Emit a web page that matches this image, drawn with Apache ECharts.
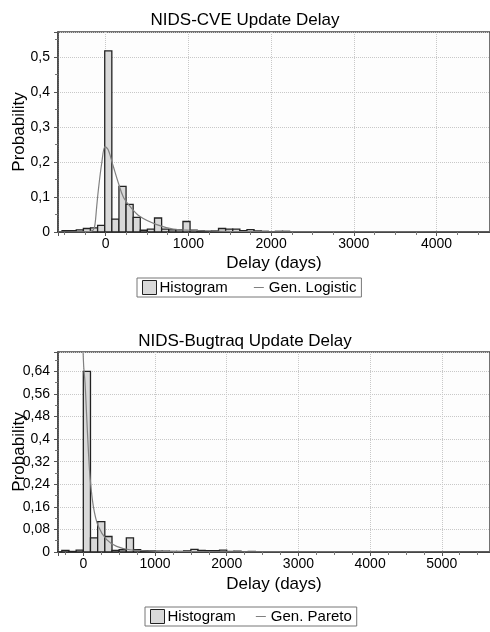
<!DOCTYPE html>
<html>
<head>
<meta charset="utf-8">
<script src="https://cdn.jsdelivr.net/npm/echarts@6/dist/echarts.min.js"></script>
<style>
html,body{margin:0;padding:0;background:#fff;}
#chart{width:490px;height:632px;}
</style>
</head>
<body>
<div id="chart"></div>
<script>
// ---------- Data: NIDS-CVE ----------
const cveBinWidth = 86;
const cveBinStart = [-528,-442,-356,-270,-184,-98,-12,74,160,246,332,418,504,590,676,762,848,934,1020,1106,1192,1278,1364,1450,1536,1622,1708,1794,1880,1966,2052,2138];
const cveProb     = [0.004,0.004,0.006,0.010,0.012,0.019,0.517,0.037,0.130,0.079,0.042,0.005,0.008,0.040,0.008,0.006,0.006,0.030,0.005,0.004,0.002,0.003,0.010,0.008,0.008,0.004,0.007,0.003,0.002,0.001,0.002,0.002];
const cveCurveX = [-577,-200,-150,-130,-110,-89,-48,-8,31,92,153,213,294,415,617,818,1020,1500,2500,4647];
const cveCurveY = [0,0.001,0.006,0.021,0.070,0.120,0.197,0.244,0.234,0.187,0.140,0.100,0.073,0.044,0.021,0.0085,0.005,0.0015,0.0003,0];

// ---------- Data: NIDS-Bugtraq ----------
const bugBinWidth = 100;
const bugBinStart = [-300,-200,-100,0,100,200,300,400,500,600,700,800,900,1000,1100,1200,1300,1400,1500,1600,1700,1800,1900,2000,2100,2200,2300];
const bugProb     = [0.006,0.002,0.007,0.640,0.050,0.108,0.055,0.006,0.008,0.050,0.008,0.005,0.004,0.003,0.003,0.002,0.002,0.004,0.009,0.006,0.005,0.005,0.007,0.002,0.003,0.001,0.002];
const bugCurveX = [-8,5,24,47,70,93,140,209,326,465,651,1000,1500,2500,5672];
const bugCurveY = [0.75,0.66,0.600,0.480,0.363,0.268,0.162,0.091,0.044,0.020,0.008,0.003,0.001,0.0003,0];

// ---------- Axis settings ----------
const cveXRange = [-577, 4647];
const cveYRange = [0, 0.571];
const cveYStep = 0.1;
const bugXRange = [-353, 5672];
const bugYRange = [0, 0.709];
const bugYStep = 0.08;

const FONT = '"Liberation Sans", Arial, sans-serif';
const zip = (a, b) => a.map((v, i) => [v, b[i]]);
const LINE_ICON = 'path://M0,0L0.01,0L0.01,0.01Z M14,14L14.01,14L14.01,14.01Z M2,6.4L12,6.4L12,7.6L2,7.6Z';

function histRender(binW) {
  return function (params, api) {
    const x0 = api.value(0), h = api.value(1);
    const p0 = api.coord([x0, h]);
    const p1 = api.coord([x0 + binW, 0]);
    return {
      type: 'rect',
      shape: { x: p0[0], y: p0[1], width: p1[0] - p0[0], height: p1[1] - p0[1] },
      style: { fill: '#d9d9d9', stroke: '#222', lineWidth: 1.3 }
    };
  };
}
function fmtY(v) {
  if (v === 0) return '0';
  return String(+v.toFixed(2)).replace('.', ',');
}
function xAxisOpt(gi, range, gap) {
  return {
    type: 'value', gridIndex: gi, min: range[0], max: range[1], splitNumber: 5,
    name: 'Delay (days)', nameLocation: 'middle', nameGap: gap, nameMoveOverlap: false,
    nameTextStyle: { fontFamily: FONT, fontSize: 17, color: '#000' },
    axisLine: { show: true, onZero: false, lineStyle: { color: '#333', width: 2 } },
    axisTick: { show: true, length: 4, lineStyle: { color: '#555' } },
    minorTick: { show: true, splitNumber: 4, length: 3, lineStyle: { color: '#777' } },
    axisLabel: { fontFamily: FONT, fontSize: 14, color: '#000', margin: 5, showMinLabel: false, showMaxLabel: false,
      formatter: v => String(v) },
    splitLine: { show: true, lineStyle: { color: '#c8c8c8', type: 'dotted', width: 1 } }
  };
}
function yAxisOpt(gi, range, step) {
  return {
    type: 'value', gridIndex: gi, min: range[0], max: range[1], interval: step,
    name: 'Probability', nameLocation: 'middle', nameGap: 30, nameRotate: 90, nameMoveOverlap: false,
    nameTextStyle: { fontFamily: FONT, fontSize: 17, color: '#000' },
    axisLine: { show: true, onZero: false, lineStyle: { color: '#444', width: 1.5 } },
    axisTick: { show: true, length: 4, lineStyle: { color: '#555' } },
    minorTick: { show: true, splitNumber: 2, length: 3, lineStyle: { color: '#777' } },
    axisLabel: { fontFamily: FONT, fontSize: 14, color: '#000', margin: 8, formatter: fmtY, showMaxLabel: false },
    splitLine: { show: true, lineStyle: { color: '#c8c8c8', type: 'dotted', width: 1 } }
  };
}
function legendOpt(top, left, names, gap) {
  return {
    top: top, left: left, orient: 'horizontal',
    borderColor: '#777', borderWidth: 1, padding: [2, 5], itemGap: gap,
    itemWidth: 14, itemHeight: 14,
    textStyle: { fontFamily: FONT, fontSize: 15, color: '#000', padding: [0, 0, 0, -2] },
    data: [
      { name: names[0], icon: 'rect', itemStyle: { color: '#d9d9d9', borderColor: '#222', borderWidth: 1 } },
      { name: names[1], icon: LINE_ICON, itemStyle: { color: '#808080', borderWidth: 0 } }
    ],
    selectedMode: false
  };
}
const gridBase = { left: 58, width: 432, height: 200, show: true, borderColor: '#444', borderWidth: 1.5,
  backgroundColor: '#fdfdfd', containLabel: false, outerBoundsMode: 'none' };

const chart = echarts.init(document.getElementById('chart'), null, { renderer: 'canvas' });
chart.setOption({
  backgroundColor: '#fff',
  animation: false,
  title: [
    { text: 'NIDS-CVE Update Delay', left: 'center', top: 7, textStyle: { fontFamily: FONT, fontSize: 17, fontWeight: 'normal', color: '#000' } },
    { text: 'NIDS-Bugtraq Update Delay', left: 'center', top: 328, textStyle: { fontFamily: FONT, fontSize: 17, fontWeight: 'normal', color: '#000' } }
  ],
  grid: [
    Object.assign({ top: 32 }, gridBase),
    Object.assign({ top: 352 }, gridBase)
  ],
  xAxis: [xAxisOpt(0, cveXRange, 23), xAxisOpt(1, bugXRange, 24)],
  yAxis: [yAxisOpt(0, cveYRange, cveYStep), yAxisOpt(1, bugYRange, bugYStep)],
  legend: [
    legendOpt(278, 137, ['Histogram', 'Gen. Logistic'], 24),
    legendOpt(607, 145, ['Histogram', 'Gen. Pareto'], 18)
  ],
  series: [
    { name: 'Histogram', type: 'custom', xAxisIndex: 0, yAxisIndex: 0, clip: true,
      itemStyle: { color: '#d9d9d9', borderColor: '#222' },
      renderItem: histRender(cveBinWidth), data: zip(cveBinStart, cveProb), encode: { x: 0, y: 1 } },
    { name: 'Gen. Logistic', type: 'line', xAxisIndex: 0, yAxisIndex: 0, smooth: 0.35, symbol: 'none', clip: true,
      lineStyle: { color: '#808080', width: 1.2 }, itemStyle: { color: '#808080' },
      data: zip(cveCurveX, cveCurveY) },
    { name: 'Histogram', type: 'custom', xAxisIndex: 1, yAxisIndex: 1, clip: true,
      itemStyle: { color: '#d9d9d9', borderColor: '#222' },
      renderItem: histRender(bugBinWidth), data: zip(bugBinStart, bugProb), encode: { x: 0, y: 1 } },
    { name: 'Gen. Pareto', type: 'line', xAxisIndex: 1, yAxisIndex: 1, smooth: 0.35, symbol: 'none', clip: true,
      lineStyle: { color: '#808080', width: 1.2 }, itemStyle: { color: '#808080' },
      data: zip(bugCurveX, bugCurveY) }
  ]
});
</script>
</body>
</html>
